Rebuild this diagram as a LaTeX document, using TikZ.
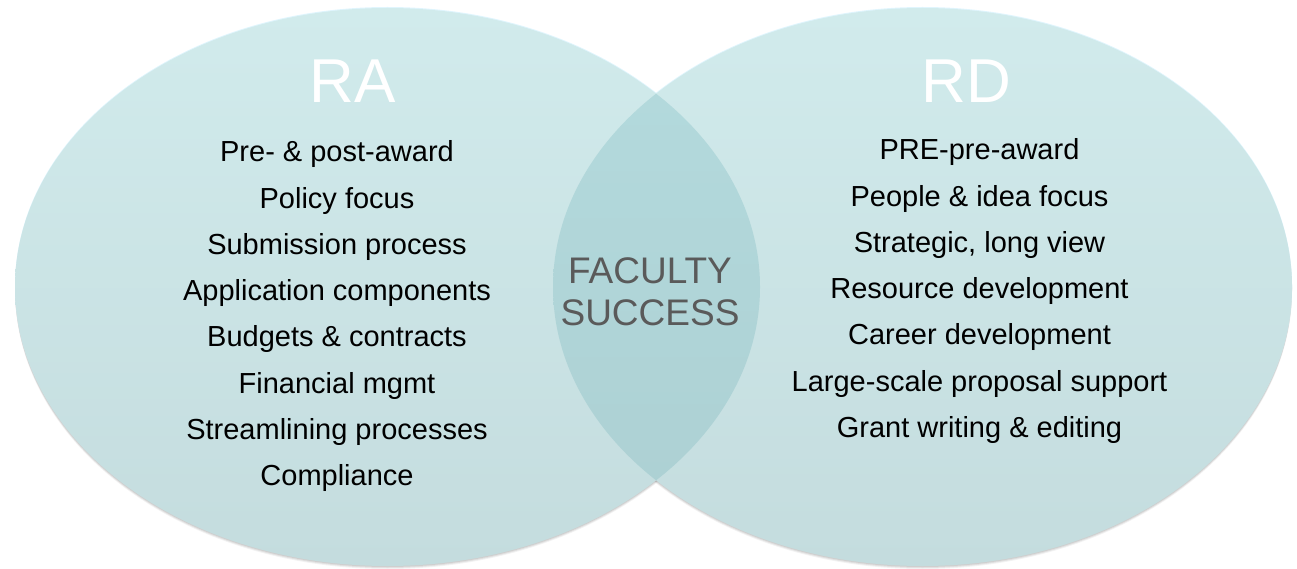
\documentclass[tikz,border=0pt]{standalone}
\usepackage{fontspec}
\setmainfont{Liberation Sans}
\definecolor{ellTop}{RGB}{209,235,236}
\definecolor{ellBot}{RGB}{196,220,222}
\definecolor{lensTop}{RGB}{180,219,222}
\definecolor{lensBot}{RGB}{172,207,210}
\definecolor{centerText}{RGB}{90,90,90}
\tikzset{
  itemtext/.style={anchor=base, inner sep=0pt, font=\fontsize{29}{29}\selectfont, text=black},
  titletext/.style={anchor=base, inner sep=0pt, font=\fontsize{62}{62}\selectfont, text=white},
  centertext/.style={anchor=base, inner sep=0pt, font=\fontsize{37}{37}\selectfont, text=centerText},
  ellL/.style={x radius=372.5pt, y radius=279pt},
  ellR/.style={x radius=369.5pt, y radius=279pt}
}
\begin{document}
\begin{tikzpicture}[x=1pt,y=-1pt]
\useasboundingbox (0,0) rectangle (1297,569);
\coordinate (cL) at (387.5,287);
\coordinate (cR) at (922.5,287);
% soft shadows
\foreach \d/\o in {3/0.05,2/0.07,1/0.08}{
  \fill[black, opacity=\o] ([yshift=-\d pt]cL) ellipse [ellL];
  \fill[black, opacity=\o] ([yshift=-\d pt]cR) ellipse [ellR];
}
% light rim at top
\fill[cyan!12] ([yshift=1pt]cL) ellipse [ellL];
\fill[cyan!12] ([yshift=1pt]cR) ellipse [ellR];
% circles
\shade[top color=ellTop, bottom color=ellBot] (cL) ellipse [ellL];
\shade[top color=ellTop, bottom color=ellBot] (cR) ellipse [ellR];
% lens
\begin{scope}
  \clip (cL) ellipse [ellL];
  \shade[top color=lensTop, bottom color=lensBot] (cR) ellipse [ellR];
\end{scope}
% titles
\node[titletext] (ra) at (352.5,103) {RA};
\node[titletext] (rd) at (966,103) {RD};
% left items
\node[itemtext] (l1) at (337,162) {Pre- \& post-award};
\node[itemtext] (l2) at (337,208.2) {Policy focus};
\node[itemtext] (l3) at (337,254.4) {Submission process};
\node[itemtext] (l4) at (337,300.6) {Application components};
\node[itemtext] (l5) at (337,346.8) {Budgets \& contracts};
\node[itemtext] (l6) at (337,393) {Financial mgmt};
\node[itemtext] (l7) at (337,439.2) {Streamlining processes};
\node[itemtext] (l8) at (337,485.4) {Compliance};
% right items
\node[itemtext] (r1) at (979.5,160) {PRE-pre-award};
\node[itemtext] (r2) at (979.5,206.2) {People \& idea focus};
\node[itemtext] (r3) at (979.5,252.4) {Strategic, long view};
\node[itemtext] (r4) at (979.5,298.6) {Resource development};
\node[itemtext] (r5) at (979.5,344.8) {Career development};
\node[itemtext] (r6) at (979.5,391) {Large-scale proposal support};
\node[itemtext] (r7) at (979.5,437.2) {Grant writing \& editing};
% center
\node[centertext] (fac) at (650,283) {FACULTY};
\node[centertext] (suc) at (650,325) {SUCCESS};
\end{tikzpicture}
\end{document}
